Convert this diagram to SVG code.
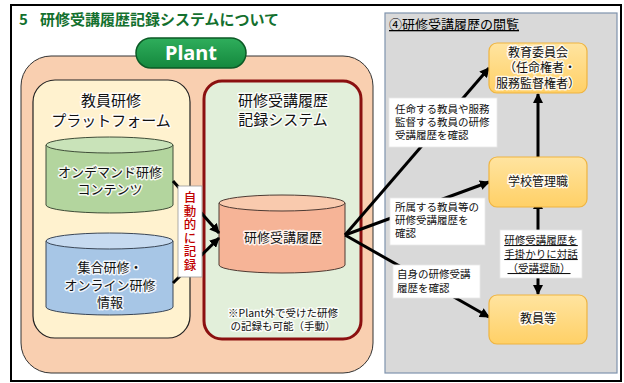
<svg xmlns="http://www.w3.org/2000/svg" width="624" height="383" viewBox="0 0 624 383">
<defs>
<style>
text{font-family:"Noto Sans CJK JP","Noto Sans",sans-serif;fill:#111;}
.halo{stroke:#fff;stroke-width:3;stroke-linejoin:round;paint-order:stroke;stroke-opacity:0.85;}
.mid{text-anchor:middle;}
.conn{stroke:#000;stroke-width:3;fill:none;}
.lbl{fill:#fff;stroke:#e8e8e8;stroke-width:0.8;}
.obox{fill:url(#og);stroke:#efb440;stroke-width:1.2;}
</style>
<linearGradient id="og" x1="0" y1="0" x2="0" y2="1"><stop offset="0" stop-color="#ffe4a0"/><stop offset="1" stop-color="#ffd066"/></linearGradient>
<linearGradient id="pg" x1="0" y1="0" x2="0" y2="1"><stop offset="0" stop-color="#2fae5c"/><stop offset="1" stop-color="#14883d"/></linearGradient>
<marker id="ah" viewBox="0 0 10 10" refX="9" refY="5" markerWidth="10" markerHeight="10" markerUnits="userSpaceOnUse" orient="auto"><path d="M0,0 L10,5 L0,10 Z" fill="#000"/></marker>
<marker id="ahs" viewBox="0 0 10 10" refX="1" refY="5" markerWidth="10" markerHeight="10" markerUnits="userSpaceOnUse" orient="auto-start-reverse"><path d="M0,0 L10,5 L0,10 Z" fill="#000"/></marker>
</defs>
<rect x="0" y="0" width="624" height="383" fill="#fff"/>
<rect x="11" y="5" width="610" height="376" fill="#fff" stroke="#000" stroke-width="2"/>
<text x="19" y="25" font-size="15" font-weight="bold" style="fill:#13702e">5</text>
<text x="40" y="25" font-size="15" font-weight="bold" style="fill:#13702e">研修受講履歴記録システムについて</text>

<g id="plant">
<rect x="21" y="56" width="352" height="317" rx="30" fill="#f9cfb0" stroke="#333" stroke-width="1"/>
</g>
<g id="platform">
<rect x="33" y="80" width="157" height="258" rx="22" fill="#fff2cf" stroke="#222" stroke-width="1.2"/>
<text class="mid halo" font-size="15"><tspan x="111" y="106">教員研修</tspan><tspan x="111" y="126">プラットフォーム</tspan></text>
</g>
<g id="system">
<rect x="204" y="81" width="157" height="258" rx="18" fill="#e2efda" stroke="#8b1010" stroke-width="3"/>
<text class="mid halo" font-size="15"><tspan x="283" y="106">研修受講履歴</tspan><tspan x="283" y="125">記録システム</tspan></text>
<text class="mid halo" font-size="10.5"><tspan x="283" y="317">※Plant外で受けた研修</tspan><tspan x="283" y="330">の記録も可能（手動）</tspan></text>
</g>
<g id="plant-label">
<rect x="136" y="38" width="110" height="30" rx="15" fill="url(#pg)" stroke="#0b5a25" stroke-width="1.5"/>
<text class="mid" x="191" y="60" font-size="20" font-weight="bold" style="fill:#fff;font-family:'Noto Sans','Liberation Sans',sans-serif">Plant</text>
</g>
<g id="ondemand">
<path d="M46,145 V205 A63.5,8 0 0 0 173,205 V145 Z" fill="#b3d59e" stroke="#3f4d38" stroke-width="1"/>
<ellipse cx="109.5" cy="145" rx="63.5" ry="8" fill="#c9e3b9" stroke="#3f4d38" stroke-width="1"/>
<text class="mid halo" font-size="13"><tspan x="110" y="177">オンデマンド研修</tspan><tspan x="110" y="194">コンテンツ</tspan></text>
</g>
<g id="training">
<path d="M46,241 V307 A63.5,8 0 0 0 173,307 V241 Z" fill="#a7c6e6" stroke="#3a4656" stroke-width="1"/>
<ellipse cx="109.5" cy="241" rx="63.5" ry="8" fill="#c6daf0" stroke="#3a4656" stroke-width="1"/>
<text class="mid halo" font-size="13"><tspan x="110" y="272">集合研修・</tspan><tspan x="110" y="290">オンライン研修</tspan><tspan x="110" y="307">情報</tspan></text>
</g>
<g id="history">
<path d="M219,203 V265 A63,8 0 0 0 345,265 V203 Z" fill="#f6b497" stroke="#4d3a33" stroke-width="1"/>
<ellipse cx="282" cy="203" rx="63" ry="8" fill="#f9caae" stroke="#4d3a33" stroke-width="1"/>
<text class="mid halo" x="283" y="242" font-size="13">研修受講履歴</text>
</g>

<g id="view-panel">
<rect x="385" y="13" width="232" height="360" fill="#d9d9d9" stroke="#7f93ad" stroke-width="1.2"/>
<text x="389" y="29" font-size="13" text-decoration="underline" style="fill:#000">④研修受講履歴の閲覧</text>
</g>

<g id="connectors">
<line class="conn" x1="173" y1="181" x2="219" y2="233" marker-end="url(#ah)"/>
<line class="conn" x1="173" y1="283" x2="219" y2="238" marker-end="url(#ah)"/>
<line class="conn" x1="345" y1="235" x2="489" y2="68" marker-end="url(#ah)"/>
<line class="conn" x1="345" y1="235" x2="489" y2="182" marker-end="url(#ah)"/>
<line class="conn" x1="345" y1="235" x2="489" y2="317" marker-end="url(#ah)"/>
<line class="conn" x1="538" y1="157" x2="538" y2="94" marker-end="url(#ah)"/>
<line class="conn" x1="538" y1="208" x2="538" y2="294" marker-start="url(#ahs)" marker-end="url(#ah)"/>
</g>

<g id="auto-record">
<rect x="178" y="186" width="24" height="91" fill="#fff" stroke="#999" stroke-width="0.8"/>
<text x="190" y="231.5" font-size="12.5" text-anchor="middle" writing-mode="vertical-rl" letter-spacing="1" style="fill:#c00000;font-weight:500">自動的に記録</text>
</g>

<g id="label-board">
<rect class="lbl" x="389" y="98" width="108" height="49"/>
<text font-size="10.5"><tspan x="395" y="113">任命する教員や服務</tspan><tspan x="395" y="126">監督する教員の研修</tspan><tspan x="395" y="139">受講履歴を確認</tspan></text>
</g>
<g id="label-school">
<rect class="lbl" x="390" y="198" width="95" height="47"/>
<text font-size="10.5"><tspan x="395" y="211">所属する教員等の</tspan><tspan x="395" y="224">研修受講履歴を</tspan><tspan x="395" y="237">確認</tspan></text>
</g>
<g id="label-self">
<rect class="lbl" x="393" y="265" width="87" height="33"/>
<text font-size="10.5"><tspan x="397" y="278">自身の研修受講</tspan><tspan x="397" y="292">履歴を確認</tspan></text>
</g>
<g id="label-dialog">
<rect class="lbl" x="500" y="230" width="82" height="48"/>
<text class="mid" font-size="10.5" text-decoration="underline"><tspan x="541" y="244">研修受講履歴を</tspan><tspan x="541" y="258">手掛かりに対話</tspan><tspan x="539" y="272">（受講奨励）</tspan></text>
</g>

<g id="board">
<rect class="obox" x="489" y="43" width="98" height="50" rx="8"/>
<text class="mid halo" font-size="12"><tspan x="538" y="57">教育委員会</tspan><tspan x="540" y="72">（任命権者・</tspan><tspan x="538" y="88">服務監督権者）</tspan></text>
</g>
<g id="school-admin">
<rect class="obox" x="489" y="157" width="98" height="50" rx="8"/>
<text class="mid halo" x="538" y="186" font-size="12">学校管理職</text>
</g>
<g id="teachers">
<rect class="obox" x="489" y="295" width="98" height="49" rx="8"/>
<text class="mid halo" x="538" y="323" font-size="12">教員等</text>
</g>
</svg>
